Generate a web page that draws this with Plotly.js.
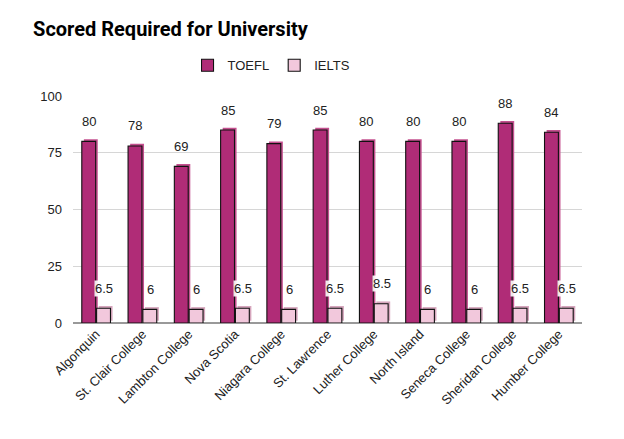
<!DOCTYPE html>
<html>
<head>
<meta charset="utf-8">
<script src="https://cdn.plot.ly/plotly-3.0.1.min.js"></script>
<style>html,body{margin:0;padding:0;background:#fff;}#chart{width:624px;height:439px;}</style>
</head>
<body>
<div id="chart"></div>
<script>
const categories = ["Algonquin","St. Clair College","Lambton College","Nova Scotia","Niagara College","St. Lawrence","Luther College","North Island","Seneca College","Sheridan College","Humber College"];
const toefl = [80,78,69,85,79,85,80,80,80,88,84];
const ielts = [6.5,6,6,6.5,6,6.5,8.5,6,6,6.5,6.5];
const yTicks = [0,25,50,75,100];

const TOEFL_COLOR = "#b02c77";
const IELTS_COLOR = "#f2c8dc";
const W = 0.3;

const traces = [
  {type:"bar", x:categories, y:toefl, base:1.0, offset:-W-0.01+0.045, width:W, marker:{color:"#c4508f", line:{width:0}}, showlegend:false, hoverinfo:"skip"},
  {type:"bar", x:categories, y:ielts, base:1.0, offset:0.01+0.045, width:W, marker:{color:"#d6a6bd", line:{width:0}}, showlegend:false, hoverinfo:"skip"},
  {type:"bar", name:"TOEFL", x:categories, y:toefl, offset:-W-0.01, width:W, marker:{color:TOEFL_COLOR, line:{color:"#111", width:1.1}}},
  {type:"bar", name:"IELTS", x:categories, y:ielts, offset:0.01, width:W, marker:{color:IELTS_COLOR, line:{color:"#111", width:1.1}}}
];

const annotations = [];
categories.forEach((c,i)=>{
  annotations.push({x:i-0.16, y:toefl[i], xref:"x", yref:"y", text:String(toefl[i]), showarrow:false, yshift:20, font:{family:"Arial, Liberation Sans, sans-serif", size:13, color:"#222"}});
  annotations.push({x:i+0.17, y:ielts[i], xref:"x", yref:"y", text:String(ielts[i]), showarrow:false, yshift:20, bgcolor:"rgba(255,255,255,0.9)", borderpad:0, font:{family:"Arial, Liberation Sans, sans-serif", size:13, color:"#222"}});
});

const layout = {
  width:624, height:439,
  margin:{l:73, r:42, t:96, b:116},
  paper_bgcolor:"#fff", plot_bgcolor:"#fff",
  title:{text:"<b>Scored Required for University</b>", x:0.053, xanchor:"left", y:0.935, yanchor:"middle", font:{family:"Roboto, sans-serif", size:20, color:"#000"}},
  showlegend:true,
  legend:{orientation:"h", x:0.225, xanchor:"left", y:1.135, yanchor:"middle", traceorder:"normal", font:{family:"Arial, Liberation Sans, sans-serif", size:13, color:"#222"}},
  barmode:"overlay",
  xaxis:{type:"category", tickangle:-45, tickfont:{family:"Arial, Liberation Sans, sans-serif", size:13, color:"#222"}, showgrid:false, ticks:"", showline:false, range:[-0.5,10.5]},
  yaxis:{range:[0,100], tickvals:yTicks, ticktext:yTicks.map(String), showgrid:true, gridcolor:"#d6d6d6", gridwidth:1, zeroline:true, zerolinecolor:"#999", zerolinewidth:2, tickfont:{family:"Arial, Liberation Sans, sans-serif", size:13, color:"#222"}, ticks:"", ticklabelstandoff:10},
  annotations:annotations
};

Plotly.newPlot("chart", traces, layout, {displayModeBar:false, staticPlot:true});
</script>
</body>
</html>
